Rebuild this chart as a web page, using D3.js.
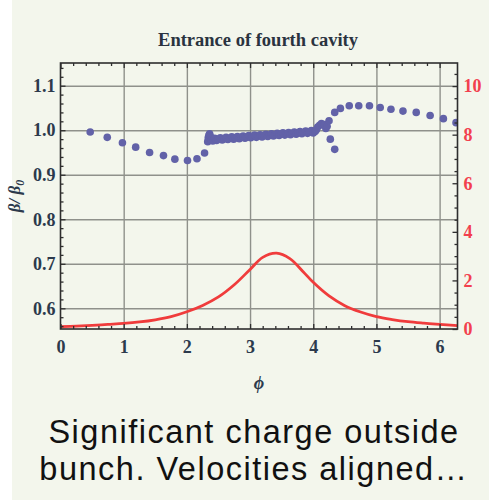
<!DOCTYPE html>
<html>
<head>
<meta charset="utf-8">
<script src="https://cdn.jsdelivr.net/npm/d3@7"></script>
<style>
  html, body { margin: 0; padding: 0; background: #ffffff; }
  svg { display: block; }
</style>
</head>
<body>
<svg id="chart" width="489" height="500"></svg>
<script>
// Beam velocity ratio β/β0 for each macro-particle, versus RF phase φ
const phi = [
  0.47, 0.74, 0.98, 1.19, 1.41, 1.63, 1.81, 2.01, 2.16, 2.28,
  2.33, 2.34, 2.34, 2.35, 2.36, 2.37, 2.39, 2.41,
  2.44, 2.47, 2.50, 2.53, 2.56, 2.59, 2.62, 2.65, 2.68, 2.71,
  2.74, 2.77, 2.80, 2.83, 2.86, 2.89, 2.92, 2.95, 2.98, 3.01,
  3.04, 3.07, 3.10, 3.13, 3.16, 3.19, 3.22, 3.25, 3.28, 3.31,
  3.34, 3.37, 3.40, 3.43, 3.46, 3.49, 3.52, 3.55, 3.58, 3.61,
  3.64, 3.67, 3.70, 3.73, 3.76, 3.79, 3.82, 3.85, 3.88, 3.91,
  3.94, 3.97, 4.00, 4.03, 4.05,
  4.07, 4.10, 4.13, 4.16, 4.18, 4.20, 4.22, 4.25, 4.27, 4.34,
  4.34, 4.43, 4.57, 4.72, 4.89, 5.06, 5.23, 5.42, 5.63, 5.85, 6.06, 6.26
];
const betaRatio = [
  0.996, 0.984, 0.972, 0.962, 0.950, 0.943, 0.935, 0.932, 0.936, 0.949,
  0.974, 0.979, 0.984, 0.989, 0.992, 0.987, 0.978, 0.976,
  0.982, 0.977, 0.980, 0.983, 0.978, 0.981, 0.984, 0.979, 0.982, 0.985,
  0.980, 0.983, 0.986, 0.981, 0.984, 0.987, 0.982, 0.985, 0.988, 0.983,
  0.986, 0.989, 0.984, 0.987, 0.990, 0.985, 0.988, 0.991, 0.986, 0.989,
  0.992, 0.987, 0.990, 0.993, 0.988, 0.991, 0.994, 0.989, 0.992, 0.995,
  0.990, 0.993, 0.996, 0.991, 0.994, 0.997, 0.992, 0.995, 0.998, 0.993,
  0.996, 0.999, 0.994, 0.997, 1.001,
  1.007, 1.011, 1.015, 1.012, 1.013, 1.004, 1.009, 1.021, 0.980, 0.957,
  1.040, 1.049, 1.055, 1.055, 1.055, 1.051, 1.047, 1.043, 1.040, 1.033, 1.026, 1.017
];

// Line charge density profile (right-hand axis)
const densityPhi = [
  0.00, 0.25, 0.50, 0.75, 1.00, 1.25, 1.50, 1.75, 2.00, 2.25,
  2.50, 2.75, 3.00, 3.20, 3.42, 3.63, 3.84, 4.00, 4.25, 4.50,
  4.75, 5.00, 5.25, 5.50, 5.75, 6.00, 6.283
];
const density = [
  0.10, 0.12, 0.15, 0.19, 0.23, 0.29, 0.38, 0.51, 0.71, 0.97,
  1.32, 1.82, 2.45, 2.95, 3.12, 2.90, 2.36, 1.92, 1.36, 0.96,
  0.70, 0.51, 0.39, 0.30, 0.24, 0.19, 0.14
];

// Axis ticks
const xTicks = [0, 1, 2, 3, 4, 5, 6];
const yTicks = [0.6, 0.7, 0.8, 0.9, 1.0, 1.1];
const y2Ticks = [0, 2, 4, 6, 8, 10];

const titleText = "Entrance of fourth cavity";
const captionLines = ["Significant charge outside", "bunch. Velocities aligned…"];

const svg = d3.select("#chart");
const W = 489, H = 500;
const plot = { left: 60.5, right: 457.5, top: 63, bottom: 329 };

// page background
svg.append("rect").attr("x", 0).attr("y", 0).attr("width", W).attr("height", H).attr("fill", "#ffffff");
svg.append("rect").attr("x", 12).attr("y", 0).attr("width", W - 12).attr("height", H).attr("fill", "#f3f6ec");

const x = d3.scaleLinear().domain([0, 2 * Math.PI]).range([plot.left, plot.right]);
const y = d3.scaleLinear().domain([0.5535, 1.151]).range([plot.bottom, plot.top]);
const y2 = d3.scaleLinear().domain([0, 10.95]).range([plot.bottom, plot.top]);

const labelColor = "#2c3a4c";
const serif = "'Liberation Serif', 'DejaVu Serif', serif";

// grid lines
const gridStyle = g => {
  g.select(".domain").remove();
  g.selectAll(".tick line").attr("stroke", "#8f918b").attr("stroke-width", 1.4);
  g.selectAll(".tick text").remove();
};
svg.append("g")
  .attr("transform", `translate(0,${plot.bottom})`)
  .call(d3.axisBottom(x).tickValues(xTicks.filter(v => v > 0)).tickSize(-(plot.bottom - plot.top)))
  .call(gridStyle);
svg.append("g")
  .attr("transform", `translate(${plot.left},0)`)
  .call(d3.axisLeft(y).tickValues(yTicks).tickSize(-(plot.right - plot.left)))
  .call(gridStyle);

// clip for data marks
svg.append("clipPath").attr("id", "plotClip")
  .append("rect")
  .attr("x", plot.left).attr("y", plot.top)
  .attr("width", plot.right - plot.left).attr("height", plot.bottom - plot.top);

const dataG = svg.append("g").attr("clip-path", "url(#plotClip)");

// density curve
const line = d3.line()
  .x((d, i) => x(densityPhi[i]))
  .y(d => y2(d))
  .curve(d3.curveCatmullRom.alpha(0.5));
dataG.append("path")
  .datum(density)
  .attr("d", line)
  .attr("fill", "none")
  .attr("stroke", "#f03c3c")
  .attr("stroke-width", 2.8)
  .attr("stroke-linejoin", "round");

// particle dots
dataG.selectAll("circle")
  .data(betaRatio)
  .join("circle")
  .attr("cx", (d, i) => x(phi[i]))
  .attr("cy", d => y(d))
  .attr("r", 3.8)
  .attr("fill", "#6262a8");

// frame
svg.append("rect")
  .attr("x", plot.left).attr("y", plot.top)
  .attr("width", plot.right - plot.left).attr("height", plot.bottom - plot.top)
  .attr("fill", "none").attr("stroke", "#2e2e2e").attr("stroke-width", 1.6);

// tick styling helper
const tickStyle = (g, color) => {
  g.select(".domain").remove();
  g.selectAll(".tick line").attr("stroke", "#2e2e2e").attr("stroke-width", 1.3);
  g.selectAll(".tick text")
    .attr("font-family", serif)
    .attr("font-weight", "bold")
    .attr("font-size", 18)
    .attr("fill", color);
};

const minorX = d3.range(0, 31).map(i => i * 0.2).filter(v => Math.abs(v - Math.round(v)) > 1e-6);
const minorY = d3.range(28, 58).map(i => i * 0.02).filter(v => Math.abs(v * 10 - Math.round(v * 10)) > 1e-6);
const minorY2 = d3.range(0, 22).map(i => i * 0.5).filter(v => v % 2 !== 0);

// bottom axis
svg.append("g").attr("transform", `translate(0,${plot.bottom})`)
  .call(d3.axisBottom(x).tickValues(xTicks).tickSize(-5).tickPadding(11).tickFormat(d3.format("d")))
  .call(g => tickStyle(g, labelColor));
svg.append("g").attr("transform", `translate(0,${plot.bottom})`)
  .call(d3.axisBottom(x).tickValues(minorX).tickSize(-3).tickFormat(""))
  .call(g => tickStyle(g, labelColor));
// top axis
svg.append("g").attr("transform", `translate(0,${plot.top})`)
  .call(d3.axisTop(x).tickValues(xTicks).tickSize(-5).tickFormat(""))
  .call(g => tickStyle(g, labelColor));
svg.append("g").attr("transform", `translate(0,${plot.top})`)
  .call(d3.axisTop(x).tickValues(minorX).tickSize(-3).tickFormat(""))
  .call(g => tickStyle(g, labelColor));
// left axis
svg.append("g").attr("transform", `translate(${plot.left},0)`)
  .call(d3.axisLeft(y).tickValues(yTicks).tickSize(-5).tickPadding(5).tickFormat(d3.format(".1f")))
  .call(g => tickStyle(g, labelColor));
svg.append("g").attr("transform", `translate(${plot.left},0)`)
  .call(d3.axisLeft(y).tickValues(minorY).tickSize(-3).tickFormat(""))
  .call(g => tickStyle(g, labelColor));
// right axis
svg.append("g").attr("transform", `translate(${plot.right},0)`)
  .call(d3.axisRight(y2).tickValues(y2Ticks).tickSize(-5).tickPadding(6).tickFormat(d3.format("d")))
  .call(g => tickStyle(g, "#f2404e"));
svg.append("g").attr("transform", `translate(${plot.right},0)`)
  .call(d3.axisRight(y2).tickValues(minorY2).tickSize(-3).tickFormat(""))
  .call(g => tickStyle(g, "#f2404e"));

// title
svg.append("text")
  .attr("x", 258).attr("y", 46)
  .attr("text-anchor", "middle")
  .attr("font-family", serif).attr("font-weight", "bold").attr("font-size", 18.5)
  .attr("fill", "#2a3340")
  .text(titleText);

// y-axis label β/β0
const yl = svg.append("text")
  .attr("transform", `translate(20,${(plot.top + plot.bottom) / 2}) rotate(-90)`)
  .attr("text-anchor", "middle")
  .attr("font-family", serif).attr("font-style", "italic").attr("font-weight", "bold")
  .attr("font-size", 17).attr("fill", labelColor);
yl.append("tspan").text("β/ β");
yl.append("tspan").attr("font-size", 12).attr("dy", 4).text("0");

// x-axis label φ
svg.append("text")
  .attr("x", (plot.left + plot.right) / 2).attr("y", 389)
  .attr("text-anchor", "middle")
  .attr("font-family", serif).attr("font-style", "italic").attr("font-weight", "bold")
  .attr("font-size", 18).attr("fill", labelColor)
  .text("ϕ");

// two-line caption below the chart
const caption = svg.append("text")
  .attr("class", "caption")
  .attr("text-anchor", "middle")
  .attr("font-family", "'Liberation Sans', Arial, sans-serif")
  .attr("font-size", 32.5)
  .attr("letter-spacing", 1.5)
  .attr("fill", "#111111");
caption.selectAll("tspan")
  .data(captionLines)
  .join("tspan")
  .attr("x", 254)
  .attr("y", (d, i) => 443 + i * 36.6)
  .text(d => d);
</script>
</body>
</html>
